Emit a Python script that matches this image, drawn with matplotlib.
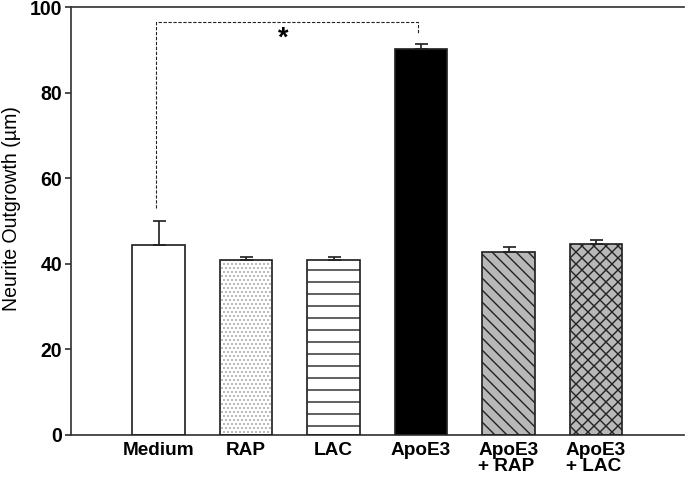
import matplotlib
matplotlib.use("Agg")
import matplotlib.pyplot as plt
import numpy as np

categories = ["Medium", "RAP", "LAC", "ApoE3", "ApoE3\n+ RAP", "ApoE3\n+ LAC"]
values = [44.5, 40.8, 41.0, 90.2, 42.7, 44.6]
errors = [5.5, 0.9, 0.7, 1.2, 1.2, 1.0]
fills = ["white", "white", "white", "black", "#b8b8b8", "#b8b8b8"]
hatches = [None, "...", "-", None, "\\\\", "xx"]
hatch_colors = [None, "#b0b0b0", "#222222", None, "#222222", "#222222"]
yticks = [0, 20, 40, 60, 80, 100]

plt.rcParams['font.family'] = ['Liberation Sans', 'DejaVu Sans']
plt.rcParams['hatch.linewidth'] = 1.4

DPI = 72
fig = plt.figure(figsize=(685 / DPI, 482 / DPI), dpi=DPI)
ax = fig.add_axes([71 / 685, 1 - 435 / 482, (683.5 - 71) / 685, (435 - 7) / 482])

x = np.arange(len(categories))
w = 0.6
for xi, v, f, h, hc in zip(x, values, fills, hatches, hatch_colors):
    if h is not None:
        ax.bar(xi, v, width=w, color=f, edgecolor=hc, hatch=h, linewidth=0, zorder=2)
    else:
        ax.bar(xi, v, width=w, color=f, linewidth=0, zorder=2)
    ax.bar(xi, v, width=w, fill=False, edgecolor="#222222", linewidth=1.7, zorder=3)

ax.errorbar(x, values, yerr=[np.zeros(len(errors)), errors], fmt="none",
            ecolor="#222222", elinewidth=1.7, capsize=6.5, capthick=1.7, zorder=4)

# significance bracket
ax.plot([0 - 0.03, 0 - 0.03, 3 - 0.04, 3 - 0.04], [53, 96.4, 96.4, 94.0],
        linestyle=(0, (3, 1.5)), color="#222222", linewidth=1.1, zorder=5)
ax.text(1.43, 92.6, "*", ha="center", va="center", fontsize=27, fontweight="bold")

ax.set_xlim(-1, 6)
ax.set_ylim(0, 100)
ax.set_yticks(yticks)
ax.set_yticklabels([str(t) for t in yticks], fontsize=19.5, fontweight="bold")
ax.set_xticks(x)
ax.set_xticklabels(categories, fontsize=19, fontweight="bold", multialignment="left",
                   linespacing=0.95)
ax.tick_params(axis="x", length=0, pad=7)
ax.tick_params(axis="y", length=6, width=1.7, color="#333333", pad=3)
ax.set_ylabel("Neurite Outgrowth (µm)", fontsize=19.5, labelpad=9, y=0.53)

for s in ["left", "bottom", "top"]:
    ax.spines[s].set_linewidth(1.7)
    ax.spines[s].set_color("#333333")
ax.spines["right"].set_visible(False)

fig.savefig("out.png", dpi=DPI)
